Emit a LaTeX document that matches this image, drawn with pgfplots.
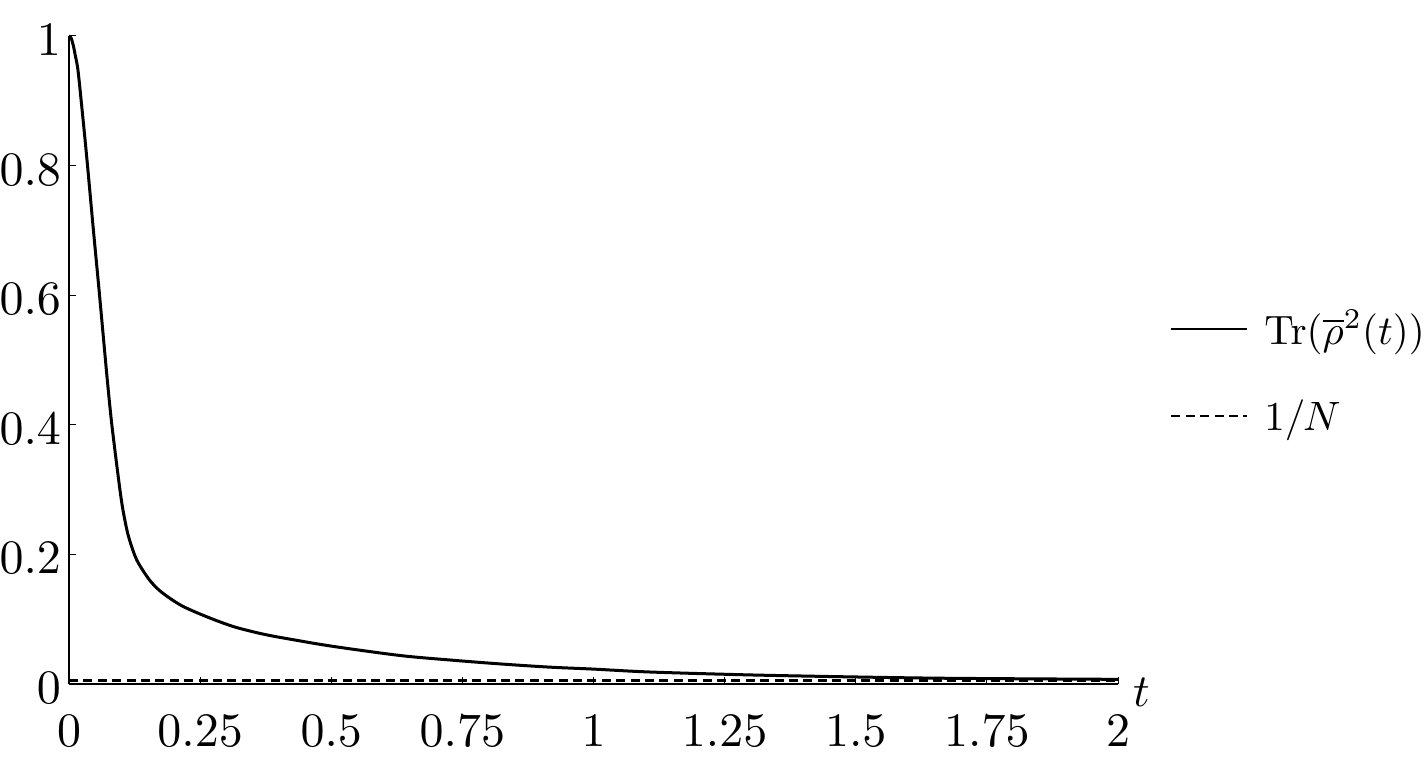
\documentclass[border=0pt]{standalone}
\usepackage{graphicx}
\usepackage{pgfplots}
\pgfplotsset{compat=1.18}
\newcommand{\tl}[1]{\scalebox{2.4}{$#1$}}
\newcommand{\lgd}[1]{\scalebox{2.05}{$#1$}}
\begin{document}
\begin{tikzpicture}
\useasboundingbox (-34.5pt,-41pt) rectangle (679.5pt,342pt);
\begin{axis}[
  name=ax,
  at={(0pt,0pt)}, anchor=south west,
  scale only axis,
  width=524.5pt, height=324pt,
  xmin=0, xmax=2, ymin=0, ymax=1,
  axis lines=left,
  axis line style={-, line width=0.6pt},
  xtick={0,0.25,0.5,0.75,1,1.25,1.5,1.75,2},
  xticklabels={\tl{0},\tl{0.25},\tl{0.5},\tl{0.75},\tl{1},\tl{1.25},\tl{1.5},\tl{1.75},\tl{2}},
  ytick={0,0.2,0.4,0.6,0.8,1},
  yticklabels={\tl{0},\tl{0.2},\tl{0.4},\tl{0.6},\tl{0.8},\tl{1}},
  tick align=inside,
  major tick length=3.5pt,
  tick style={line width=0.5pt, black},
  xticklabel style={yshift=-12pt},
  yticklabel style={xshift=-0.5pt, yshift=-2pt},
  xlabel={\scalebox{2.3}{$t$}},
  xlabel style={at={(axis description cs:1,0)}, anchor=west, xshift=4pt, yshift=-4pt},
  legend style={draw=none, fill=none, at={(axis description cs:1,0.482)}, anchor=west, xshift=26pt,
    row sep=22pt, column sep=6pt, inner sep=0pt, cells={anchor=west}},
  legend image code/.code={\draw[#1, line width=1pt] (0pt,0pt) -- (38pt,0pt);},
  clip=false,
]
\addplot[black, line width=1.5pt, smooth, tension=0.5] coordinates {
(0,1)
(0.004,0.997)
(0.008,0.986)
(0.012,0.970)
(0.017,0.948)
(0.0236,0.897)
(0.030,0.845)
(0.036,0.794)
(0.046,0.705)
(0.058,0.602)
(0.072,0.478)
(0.081,0.405)
(0.0923,0.330)
(0.100,0.283)
(0.106,0.255)
(0.1127,0.230)
(0.122,0.206)
(0.132,0.187)
(0.154,0.160)
(0.176,0.142)
(0.2145,0.121)
(0.265,0.103)
(0.316,0.088)
(0.373,0.0765)
(0.43,0.068)
(0.504,0.058)
(0.631,0.044)
(0.727,0.037)
(0.822,0.031)
(0.917,0.026)
(1.0,0.023)
(1.108,0.0185)
(1.299,0.014)
(1.49,0.011)
(1.68,0.0088)
(2,0.0072)
};
\addlegendentry{\lgd{\mathrm{Tr}(\overline{\rho}^2(t))}}
\addplot[black, line width=1.5pt, dash pattern=on 4.5pt off 2.7pt] coordinates {(0,0.005) (2,0.005)};
\addlegendentry{\lgd{1/N}}
\end{axis}
\end{tikzpicture}
\end{document}
